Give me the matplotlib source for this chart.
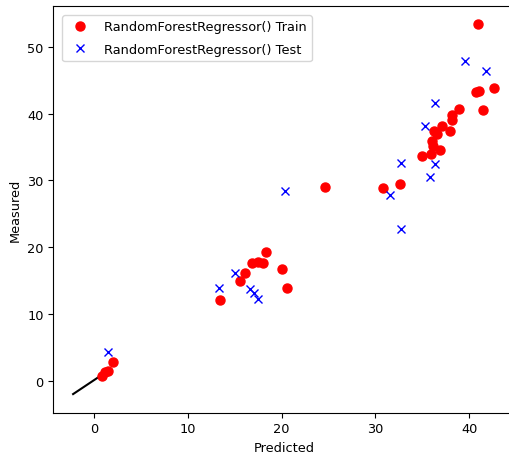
import matplotlib
matplotlib.use("Agg")
import matplotlib.pyplot as plt

plt.rcParams['font.size'] = 9.3

# Train points (predicted, measured)
train_pred = [40.9, 40.7, 41.0, 42.6, 41.5, 38.9, 38.2, 38.2, 37.1, 37.9, 36.2, 36.6,
              36.05, 36.9, 35.0, 35.9, 36.1,
              24.6, 30.8, 32.6,
              18.35, 16.85, 17.45, 18.0, 16.1, 15.6, 20.05, 20.6, 13.5,
              2.1, 1.2, 0.85, 1.5]
train_meas = [53.4, 43.2, 43.4, 43.9, 40.5, 40.7, 39.8, 39.0, 38.2, 37.4, 37.4, 36.9,
              35.9, 34.6, 33.7, 33.9, 35.2,
              29.0, 28.9, 29.4,
              19.3, 17.6, 17.8, 17.7, 16.1, 15.0, 16.8, 13.9, 12.1,
              2.85, 1.26, 0.75, 1.5]

# Test points (predicted, measured)
test_pred = [39.5, 41.8, 36.4, 35.3, 32.7, 36.4, 35.8, 31.6, 32.7, 20.4,
             15.07, 13.37, 16.67, 17.1, 17.45, 1.56]
test_meas = [47.9, 46.4, 41.6, 38.1, 32.6, 32.5, 30.5, 27.8, 22.7, 28.4,
             16.2, 13.9, 13.7, 13.1, 12.2, 4.25]

# Identity reference line
line_x = [-2.2, 1.0]
line_y = [-2.0, 1.0]

fig = plt.figure(figsize=(5.1, 4.64), dpi=100)
ax = fig.add_axes([0.1045, 0.1088, 0.904, 0.876])

ax.plot(line_x, line_y, 'k-')
ax.plot(train_pred, train_meas, 'ro', markersize=6.5, label='RandomForestRegressor() Train')
ax.plot(test_pred, test_meas, 'bx', markersize=5.8, label='RandomForestRegressor() Test')

ax.set_xlim(-4.31, 44.8)
ax.set_ylim(-4.76, 56.1)
ax.set_xticks([0, 10, 20, 30, 40])
ax.set_yticks([0, 10, 20, 30, 40, 50])
ax.set_xlabel('Predicted')
ax.set_ylabel('Measured')
ax.legend(loc='upper left', borderaxespad=0.7, labelspacing=0.75)

fig.savefig('out.png', dpi=100)
